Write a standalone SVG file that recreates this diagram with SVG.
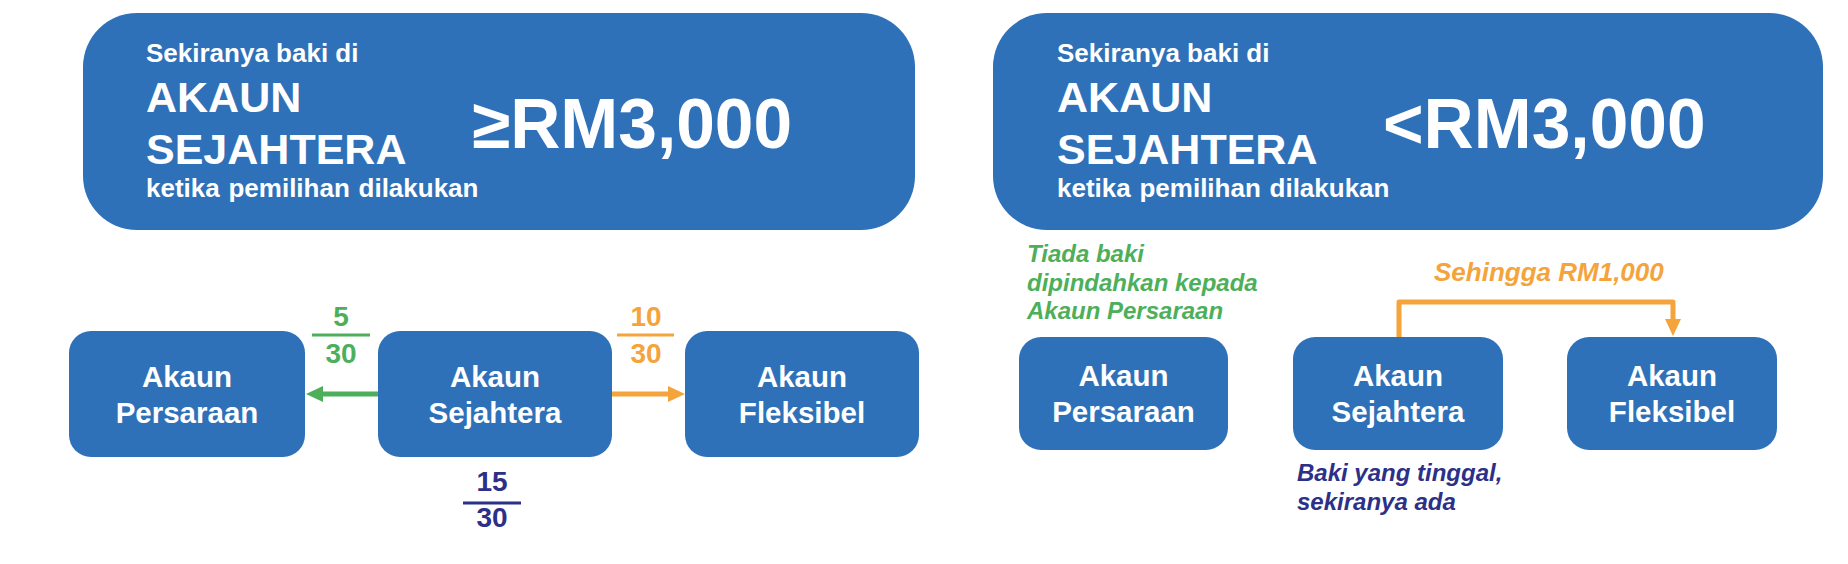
<svg xmlns="http://www.w3.org/2000/svg" width="1848" height="564" viewBox="0 0 1848 564">
  <style>
    .box { fill: #2e71b8; }
    .wt { fill: #ffffff; font-family: "Liberation Sans", Arial, sans-serif; font-weight: bold; }
    .s26 { font-size: 26px; }
    .s43 { font-size: 43px; }
    .s70 { font-size: 69.5px; }
    .node { font-size: 29.5px; text-anchor: middle; }
    .frac { font-family: "Liberation Sans", Arial, sans-serif; font-weight: bold; font-size: 28px; text-anchor: middle; }
    .note { font-family: "Liberation Sans", Arial, sans-serif; font-weight: bold; font-style: italic; font-size: 24px; }
    .green { fill: #4daf5a; }
    .orange { fill: #f5a33b; }
    .navy { fill: #2c3088; }
  </style>
  <defs>
    <marker id="ahG" markerUnits="userSpaceOnUse" markerWidth="17" markerHeight="16" refX="0" refY="8" orient="auto">
      <path d="M0,0 L17,8 L0,16 z" fill="#4daf5a"/>
    </marker>
    <marker id="ahO" markerUnits="userSpaceOnUse" markerWidth="17" markerHeight="16" refX="0" refY="8" orient="auto">
      <path d="M0,0 L17,8 L0,16 z" fill="#f5a33b"/>
    </marker>
  </defs>

  <g id="cond-ge">
    <rect class="box" x="83" y="13" width="832" height="217" rx="54" ry="54"/>
    <text class="wt s26" x="146" y="62">Sekiranya baki di</text>
    <text class="wt s43" x="146" y="112">AKAUN</text>
    <text class="wt s43" x="146" y="164">SEJAHTERA</text>
    <text class="wt s26" x="146" y="197" word-spacing="1.5">ketika pemilihan dilakukan</text>
    <text class="wt s70" x="472" y="148">≥RM3,000</text>
  </g>

  <g id="cond-lt">
    <rect class="box" x="993" y="13" width="830" height="217" rx="54" ry="54"/>
    <text class="wt s26" x="1057" y="62">Sekiranya baki di</text>
    <text class="wt s43" x="1057" y="112">AKAUN</text>
    <text class="wt s43" x="1057" y="164">SEJAHTERA</text>
    <text class="wt s26" x="1057" y="197" word-spacing="1.5">ketika pemilihan dilakukan</text>
    <text class="wt s70" x="1383" y="148">&lt;RM3,000</text>
  </g>

  <g id="l-persaraan">
    <rect class="box" x="69" y="331" width="236" height="126" rx="22" ry="22"/>
    <text class="wt node" x="187" y="387">Akaun</text>
    <text class="wt node" x="187" y="423">Persaraan</text>
  </g>
  <g id="l-sejahtera">
    <rect class="box" x="378" y="331" width="234" height="126" rx="22" ry="22"/>
    <text class="wt node" x="495" y="387">Akaun</text>
    <text class="wt node" x="495" y="423">Sejahtera</text>
  </g>
  <g id="l-fleksibel">
    <rect class="box" x="685" y="331" width="234" height="126" rx="22" ry="22"/>
    <text class="wt node" x="802" y="387">Akaun</text>
    <text class="wt node" x="802" y="423">Fleksibel</text>
  </g>

  <g id="r-persaraan">
    <rect class="box" x="1019" y="337" width="209" height="113" rx="22" ry="22"/>
    <text class="wt node" x="1123.5" y="386">Akaun</text>
    <text class="wt node" x="1123.5" y="422">Persaraan</text>
  </g>
  <g id="r-sejahtera">
    <rect class="box" x="1293" y="337" width="210" height="113" rx="22" ry="22"/>
    <text class="wt node" x="1398" y="386">Akaun</text>
    <text class="wt node" x="1398" y="422">Sejahtera</text>
  </g>
  <g id="r-fleksibel">
    <rect class="box" x="1567" y="337" width="210" height="113" rx="22" ry="22"/>
    <text class="wt node" x="1672" y="386">Akaun</text>
    <text class="wt node" x="1672" y="422">Fleksibel</text>
  </g>

  <g id="connectors" fill="none" stroke-width="5">
    <line x1="378" y1="394" x2="323" y2="394" stroke="#4daf5a" marker-end="url(#ahG)"/>
    <line x1="612" y1="394" x2="668" y2="394" stroke="#f5a33b" marker-end="url(#ahO)"/>
    <path d="M1399,337 V302 H1673 V319" stroke="#f5a33b" stroke-linejoin="round" marker-end="url(#ahO)"/>
  </g>

  <g id="labels">
    <text class="frac green" x="341" y="326">5</text>
    <rect class="green" x="312" y="333.5" width="58" height="3"/>
    <text class="frac green" x="341" y="363">30</text>

    <text class="frac orange" x="646" y="326">10</text>
    <rect class="orange" x="617" y="333.5" width="57" height="3"/>
    <text class="frac orange" x="646" y="363">30</text>

    <text class="frac navy" x="492" y="491">15</text>
    <rect class="navy" x="463" y="501.5" width="58" height="3"/>
    <text class="frac navy" x="492" y="527">30</text>

    <text class="note green" x="1027" y="262">Tiada baki</text>
    <text class="note green" x="1027" y="291">dipindahkan kepada</text>
    <text class="note green" x="1027" y="319">Akaun Persaraan</text>

    <text class="note orange" x="1434" y="281" style="font-size:26px">Sehingga RM1,000</text>

    <text class="note navy" x="1297" y="481">Baki yang tinggal,</text>
    <text class="note navy" x="1297" y="510">sekiranya ada</text>
  </g>
</svg>
